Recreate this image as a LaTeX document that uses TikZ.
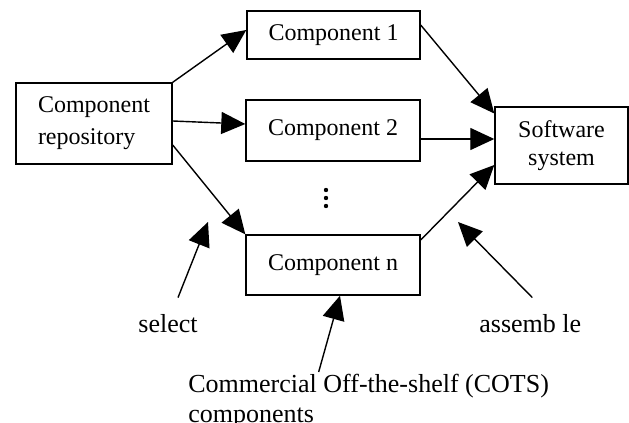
\documentclass[tikz,border=0pt]{standalone}
\usepackage{fontspec}
\setmainfont{Liberation Serif}
\usetikzlibrary{arrows.meta}

\begin{document}
\begin{tikzpicture}[x=0.5pt,y=-0.5pt,
		box/.style={draw, line width=0.7pt, font=\fontsize{12}{14}\selectfont},
		note/.style={font=\fontsize{13}{15}\selectfont, inner sep=1pt},
		arrowline/.style={-{Triangle[length=12pt,width=11pt]}, line width=0.7pt}]
		
		\useasboundingbox (0,0) rectangle (629,423);
		
		\node[box, minimum width=78pt, minimum height=40.5pt, align=left] (repo) at (94,123.5) {Component\\[2pt]repository};
		\node[box, minimum width=86.5pt, minimum height=24pt] (comp1) at (333.5,35) {Component 1};
		\node[box, minimum width=87pt, minimum height=30.5pt] (comp2) at (333,130.5) {Component 2};
		\node[box, minimum width=87pt, minimum height=30pt] (compn) at (333,265) {Component n};
		\node[box, minimum width=66.5pt, minimum height=38.5pt, align=center] (soft) at (561.5,145.5) {Software\\system};
		
		\foreach \y in {190,198,206}
			\fill (326,\y) circle (1.1pt);
		
		\node[note, anchor=base] (sel) at (168,333) {select};
		\node[note, anchor=base west] (asm) at (477,333) {assemb le};
		\node[note, anchor=north west, align=left, inner sep=0pt] (cots) at (188,374) {Commercial Off-the-shelf (COTS)\\components};
		
		\coordinate (selend) at (208,222);
		\coordinate (asmend) at (458,222);
		
		\draw[arrowline] (repo.north east) -- ([yshift=2.5pt]comp1.west);
		\draw[arrowline] ([yshift=1.25pt]repo.east) -- ([yshift=3.25pt]comp2.west);
		\draw[arrowline] ([yshift=-10.75pt]repo.east) -- (compn.north west);
		\draw[arrowline] ([yshift=5pt]comp1.east) -- ([yshift=16pt]soft.west);
		\draw[arrowline] ([yshift=-4.25pt]comp2.east) -- ([yshift=3.25pt]soft.west);
		\draw[arrowline] ([yshift=12.5pt]compn.east) -- ([yshift=-9.75pt]soft.west);
		
		\draw[arrowline] ([shift={(5pt,7.5pt)}]sel.north) -- (selend);
		\draw[arrowline] ([shift={(1pt,7.5pt)}]asm.north) -- (asmend);
		\draw[arrowline] ([shift={(-25pt,1pt)}]cots.north) -- ([xshift=3.5pt]compn.south);
		
	\end{tikzpicture}
\end{document}
